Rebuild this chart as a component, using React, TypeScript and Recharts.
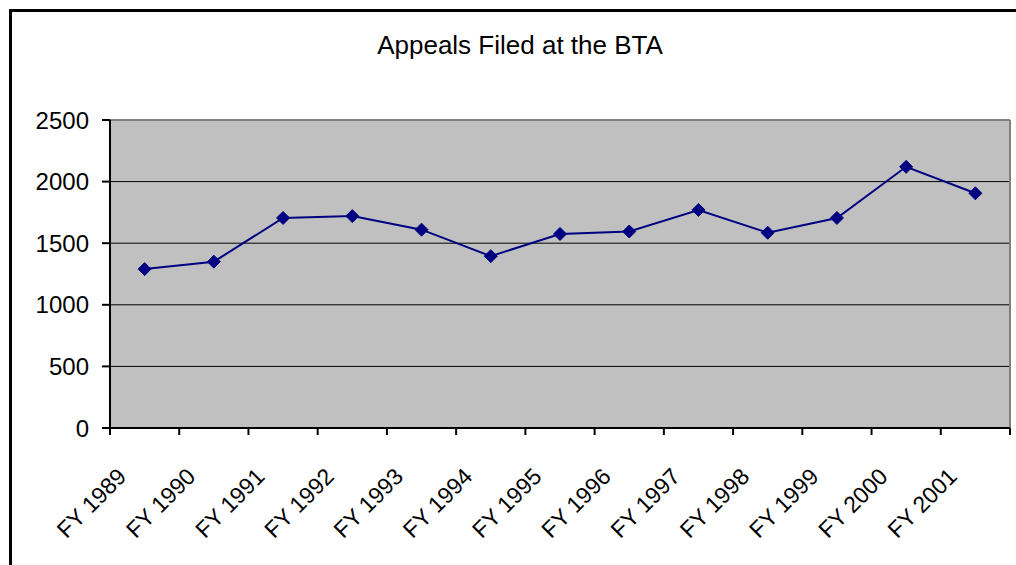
import React from "react";
import {
  LineChart,
  Line,
  XAxis,
  YAxis,
  CartesianGrid,
  ReferenceLine,
} from "recharts";

// Fiscal years along the bottom axis
const years = [
  "FY 1989",
  "FY 1990",
  "FY 1991",
  "FY 1992",
  "FY 1993",
  "FY 1994",
  "FY 1995",
  "FY 1996",
  "FY 1997",
  "FY 1998",
  "FY 1999",
  "FY 2000",
  "FY 2001",
];

// Appeals filed
const appeals = [1290, 1350, 1705, 1720, 1610, 1395, 1575, 1595, 1770, 1585, 1705, 2120, 1905];

const yTicks = [0, 500, 1000, 1500, 2000, 2500];

const data = years.map((label, i) => ({ label, pos: i + 0.5, appeals: appeals[i] }));
const boundaryTicks = years.map((_, i) => i).concat(years.length);
const centerTicks = years.map((_, i) => i + 0.5);

const FONT = "'Liberation Sans', Arial, sans-serif";
const NAVY = "#000080";

const Diamond = (props: any) => {
  const { cx, cy } = props;
  if (cx == null || cy == null) return null;
  const r = 6.5;
  return (
    <polygon
      points={`${cx},${cy - r} ${cx + r},${cy} ${cx},${cy + r} ${cx - r},${cy}`}
      fill={NAVY}
      stroke={NAVY}
    />
  );
};

const YearTick = (props: any) => {
  const { x, y, payload } = props;
  const label = years[Math.floor(payload.value)];
  const tx = x - 17;
  const ty = y + 42;
  return (
    <text
      x={tx}
      y={ty}
      transform={`rotate(-45 ${tx} ${ty})`}
      textAnchor="end"
      fontSize={23}
      fontFamily={FONT}
      fill="#000"
    >
      {label}
    </text>
  );
};

export default function App() {
  return (
    <div
      style={{
        position: "absolute",
        left: 0,
        top: 0,
        width: 1016,
        height: 565,
        overflow: "hidden",
        background: "#fff",
        fontFamily: FONT,
      }}
    >
      <div
        style={{
          position: "absolute",
          left: 9,
          top: 9,
          width: 1100,
          height: 700,
          borderLeft: "3px solid #000",
          borderTop: "3px solid #000",
        }}
      />
      <div
        style={{
          position: "absolute",
          left: 20,
          top: 32,
          width: 1000,
          textAlign: "center",
          fontSize: 26,
          lineHeight: "26px",
          color: "#000",
        }}
      >
        Appeals Filed at the BTA
      </div>
      <div style={{ position: "absolute", left: 0, top: 0 }}>
        <LineChart
          width={1016}
          height={565}
          data={data}
          margin={{ top: 120, right: 6, bottom: 0, left: 0 }}
        >
          <CartesianGrid
            xAxisId="axis1"
            vertical={false}
            stroke="#000"
            strokeOpacity={1}
            fill="#C0C0C0"
            fillOpacity={1}
          />
          <ReferenceLine xAxisId="axis1" y={2500} stroke="#808080" strokeWidth={2} />
          <ReferenceLine xAxisId="axis1" x={years.length} stroke="#808080" strokeWidth={2} />
          <XAxis
            xAxisId="axis1"
            type="number"
            dataKey="pos"
            domain={[0, years.length]}
            ticks={boundaryTicks}
            interval={0}
            height={8}
            tickSize={7}
            tick={() => <g />}
            axisLine={{ stroke: "#000", strokeWidth: 2 }}
            tickLine={{ stroke: "#000", strokeWidth: 2 }}
          />
          <XAxis
            xAxisId="axis2"
            type="number"
            dataKey="pos"
            domain={[0, years.length]}
            ticks={centerTicks}
            interval={0}
            height={129}
            tickSize={0}
            tickMargin={0}
            axisLine={false}
            tickLine={false}
            tick={<YearTick />}
          />
          <YAxis
            domain={[0, 2500]}
            ticks={yTicks}
            interval={0}
            width={110}
            tickSize={8}
            tickMargin={13}
            axisLine={{ stroke: "#000", strokeWidth: 2 }}
            tickLine={{ stroke: "#000", strokeWidth: 2 }}
            tick={{ fontSize: 24, fontFamily: FONT, fill: "#000" }}
          />
          <Line
            xAxisId="axis1"
            type="linear"
            dataKey="appeals"
            stroke={NAVY}
            strokeWidth={2}
            dot={<Diamond />}
            activeDot={false}
            isAnimationActive={false}
          />
        </LineChart>
      </div>
    </div>
  );
}
